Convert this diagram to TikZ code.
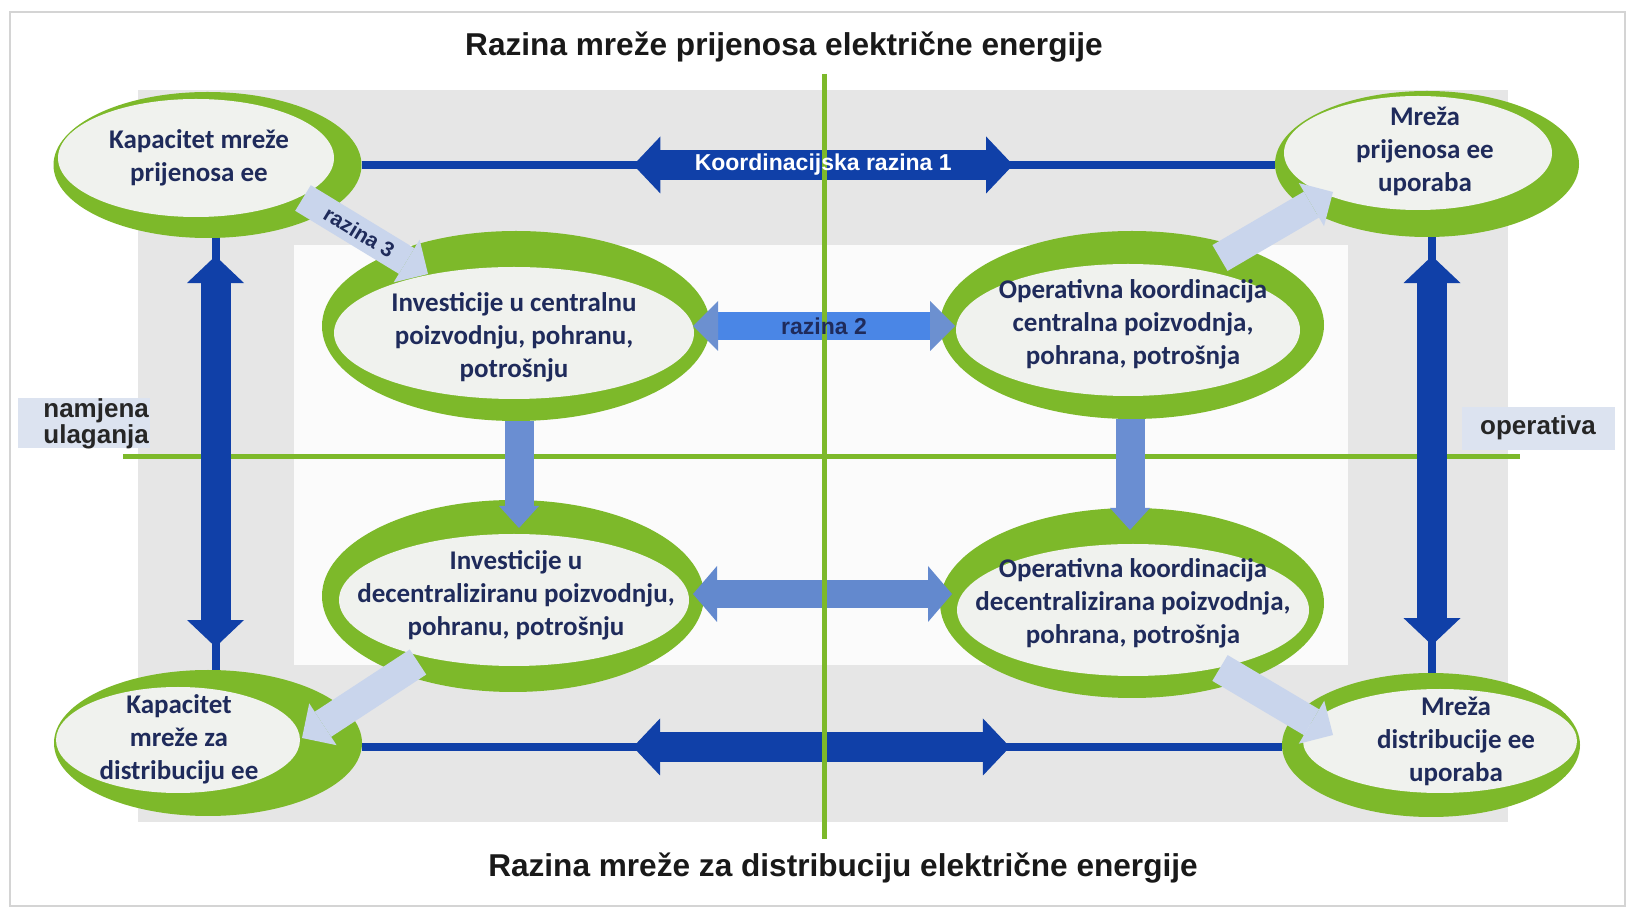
\documentclass[tikz,border=0pt]{standalone}
\usepackage{fontspec}
\setmainfont{Carlito}
\newfontfamily\arialfont{Liberation Sans}
\usetikzlibrary{arrows.meta,calc,shapes.geometric}
\definecolor{gband}{HTML}{E6E6E6}
\definecolor{innerw}{HTML}{FBFBFB}
\definecolor{framec}{HTML}{D4D4D4}
\definecolor{ringgreen}{HTML}{7DB92A}
\definecolor{innerfill}{HTML}{F0F2EE}
\definecolor{navy}{HTML}{1F2B5B}
\definecolor{dblue}{HTML}{1040A8}
\definecolor{rbody}{HTML}{4A86E6}
\definecolor{rhead}{HTML}{6C90D0}
\definecolor{mblue}{HTML}{6389CE}
\definecolor{vblue}{HTML}{6A8ED2}
\definecolor{lblue}{HTML}{C9D5EC}
\definecolor{lbox}{HTML}{DCE3F0}
\tikzset{
  ringout/.style={ellipse, fill=ringgreen, inner sep=0pt, outer sep=0pt},
  ringin/.style={ellipse, fill=innerfill, inner sep=0pt, outer sep=0pt},
  etext/.style={font=\fontsize{13.5}{16.5}\selectfont\bfseries, text=navy, align=center, inner sep=0pt},
  titletext/.style={font=\arialfont\bfseries\fontsize{15.8}{18}\selectfont, text=black!90, inner sep=0pt},
  labeltext/.style={font=\arialfont\bfseries\fontsize{13}{13}\selectfont, text=black!85, align=left, inner sep=0pt},
  labelbox/.style={fill=lbox, inner sep=0pt},
  greenline/.style={draw=ringgreen, line width=2.5pt},
  darkthin/.style={draw=dblue, line width=4pt},
  bigdark/.style={draw=dblue, line width=15pt,
    arrows={Triangle[width=28.5pt,length=13.5pt,line width=0pt]-Triangle[width=28.5pt,length=13.5pt,line width=0pt]}},
  rtwo/.style={draw=rbody, line width=14pt,
    arrows={Triangle[width=25pt,length=12.5pt,line width=0pt,color=rhead]-Triangle[width=25pt,length=12.5pt,line width=0pt,color=rhead]}},
  mdouble/.style={draw=mblue, line width=14pt,
    arrows={Triangle[width=28pt,length=12pt,line width=0pt]-Triangle[width=28pt,length=12pt,line width=0pt]}},
  midv/.style={draw=vblue, line width=14.5pt,
    arrows={-Triangle[width=20pt,length=11pt,line width=0pt]}},
  lightarrow/.style={draw=lblue, line width=15pt,
    arrows={-Triangle[width=25pt,length=12.5pt,line width=0pt]}},
  kotext/.style={font=\arialfont\bfseries\fontsize{11.5}{13}\selectfont, text=white, inner sep=0pt},
  rztext/.style={font=\arialfont\bfseries\fontsize{11.5}{13}\selectfont, text=navy, inner sep=0pt},
  r3style/.style={font=\arialfont\bfseries\fontsize{10.5}{12}\selectfont, text=navy, inner sep=0pt},
}
\begin{document}
\begin{tikzpicture}[x=0.5pt,y=-0.5pt]
\useasboundingbox (0,0) rectangle (1629,908);
\fill[white] (0,0) rectangle (1629,908);
\draw[framec, line width=1pt] (10,12) rectangle (1625,906);
% background bands
\fill[gband] (138,90) rectangle (1508,822);
\fill[innerw] (294,245) rectangle (1348,665);
% titles
\node[titletext] (ttop) at (784,47) {Razina mreže prijenosa električne energije};
\node[titletext] (tbot) at (843,868) {Razina mreže za distribuciju električne energije};
% side labels
\node[labelbox, minimum width=66pt, minimum height=25pt] (nbox) at (84,423) {};
\node[labeltext, anchor=west] (ntext) at (43,424) {namjena\\ulaganja};
\node[labelbox, minimum width=76.5pt, minimum height=21.5pt] (obox) at (1538.5,428.5) {};
\node[labeltext] (otext) at (1538,428) {operativa};
% horizontal axis
\coordinate (hl) at (123,457);
\coordinate (hr) at (1520,457);
\draw[greenline] (hl) -- (hr);
% corner ellipses
\node[ringout, minimum width=154pt, minimum height=73pt] (tlo) at (207.5,165) {};
\node[ringin, minimum width=138pt, minimum height=59pt] (tli) at (196,158) {};
\node[etext] (tlt) at (199,158) {Kapacitet mreže\\prijenosa ee};
\node[ringout, minimum width=152pt, minimum height=73pt] (tro) at (1427,164) {};
\node[ringin, minimum width=134pt, minimum height=57pt] (tri) at (1418,153) {};
\node[etext] (trt) at (1425,151) {Mreža\\prijenosa ee\\uporaba};
\node[ringout, minimum width=154pt, minimum height=73pt] (blo) at (208,743) {};
\node[ringin, minimum width=122pt, minimum height=53pt] (bli) at (178,740) {};
\node[etext] (blt) at (179,739) {Kapacitet\\mreže za\\distribuciju ee};
\node[ringout, minimum width=149pt, minimum height=72pt] (bro) at (1431,745) {};
\node[ringin, minimum width=137pt, minimum height=52pt] (bri) at (1440,741) {};
\node[etext] (brt) at (1456,741) {Mreža\\distribucije ee\\uporaba};
% middle ellipses
\node[ringout, minimum width=194pt, minimum height=95pt] (mtlo) at (516,326) {};
\node[ringin, minimum width=180pt, minimum height=66pt] (mtli) at (514,333) {};
\node[etext] (mtlt) at (514,337) {Investicije u centralnu\\poizvodnju, pohranu,\\potrošnju};
\node[ringout, minimum width=192pt, minimum height=94pt] (mtro) at (1132,325) {};
\node[ringin, minimum width=172pt, minimum height=66pt] (mtri) at (1128,330) {};
\node[etext] (mtrt) at (1133,324) {Operativna koordinacija\\centralna poizvodnja,\\pohrana, potrošnja};
\node[ringout, minimum width=191pt, minimum height=96pt] (mblo) at (513,596) {};
\node[ringin, minimum width=175pt, minimum height=66pt] (mbli) at (514,600) {};
\node[etext] (mblt) at (516,595) {Investicije u\\decentraliziranu poizvodnju,\\pohranu, potrošnju};
\node[ringout, minimum width=192pt, minimum height=95pt] (mbro) at (1132,603) {};
\node[ringin, minimum width=176pt, minimum height=66pt] (mbri) at (1133,610) {};
\node[etext] (mbrt) at (1133,603) {Operativna koordinacija\\decentralizirana poizvodnja,\\pohrana, potrošnja};
% top coordination line
\draw[darkthin] (tlo.east) -- (tlo.east -| tro.west);
\path (tlo.east) -- (tlo.east -| tro.west) coordinate[pos=0.2976] (k1l) coordinate[pos=0.7133] (k1r);
\draw[bigdark] (k1l) -- (k1r);
% bottom coordination line
\coordinate (bls) at ($(blo.east)+(0,-2pt)$);
\coordinate (bre) at ($(blo.east -| bro.west)+(0,-2pt)$);
\draw[darkthin] (bls) -- (bre);
\path (bls) -- (bre) coordinate[pos=0.2946] (b1l) coordinate[pos=0.7043] (b1r);
\draw[bigdark] (b1l) -- (b1r);
% left vertical
\coordinate (lvt) at ($(tlo.south)+(4pt,0)$);
\coordinate (lvb) at ($(tlo.south |- blo.north)+(4pt,0)$);
\draw[darkthin] (lvt) -- (lvb);
\path (lvt) -- (lvb) coordinate[pos=0.0417] (lva) coordinate[pos=0.9468] (lvz);
\draw[bigdark] (lva) -- (lvz);
% right vertical
\coordinate (rvt) at ($(tro.south)+(2.5pt,0)$);
\coordinate (rvb) at ($(tro.south |- bro.north)+(2.5pt,0)$);
\draw[darkthin] (rvt) -- (rvb);
\path (rvt) -- (rvb) coordinate[pos=0.0436] (rva) coordinate[pos=0.936] (rvz);
\draw[bigdark] (rva) -- (rvz);
% razina 2
\coordinate (r2a) at ($(mtlo.east)+(-8.5pt,0)$);
\coordinate (r2b) at ($(mtlo.east -| mtro.west)+(7.5pt,0)$);
\draw[rtwo] (r2a) -- (r2b);
% lower middle double arrow
\coordinate (dma) at ($(mblo.east)+(-5.5pt,1pt)$);
\coordinate (dmb) at ($(mblo.east -| mbro.west)+(6pt,1pt)$);
\draw[mdouble] (dma) -- (dmb);
% middle verticals
\draw[midv] ($(mtlo.south)+(1.5pt,0)$) -- ($(mtlo.south |- mblo.north)+(1.5pt,-14pt)$);
\draw[midv] ($(mtro.south)+(-1pt,0)$) -- ($(mtro.south |- mbro.north)+(-1pt,-11pt)$);
% light diagonal arrows
\coordinate (r3s) at ($(tlo.center)+(47.75pt,-16.5pt)$);
\coordinate (r3e) at ($(mtlo.center)+(-44pt,26pt)$);
\draw[lightarrow] (r3s) -- (r3e);
\draw[lightarrow] ($(mtro.center)+(44pt,33.5pt)$) -- ($(tro.center)+(-47pt,-14pt)$);
\draw[lightarrow] ($(mblo.center)+(-47.5pt,-33pt)$) -- ($(blo.center)+(47pt,2.5pt)$);
\draw[lightarrow] ($(mbro.center)+(44pt,-32.5pt)$) -- ($(bro.center)+(-49pt,5pt)$);
% vertical axis
\coordinate (vt) at (824,74);
\coordinate (vb) at (824,839);
\draw[greenline] (vt) -- (vb);
% arrow labels on top
\path (k1l) -- node[kotext] (k1t) {Koordinacijska razina 1} (k1r);
\path (r2a) -- node[rztext] (r2t) {razina 2} (r2b);
\path (r3s) -- node[r3style, sloped, pos=0.45] (r3t) {razina 3} (r3e);
\end{tikzpicture}
\end{document}
